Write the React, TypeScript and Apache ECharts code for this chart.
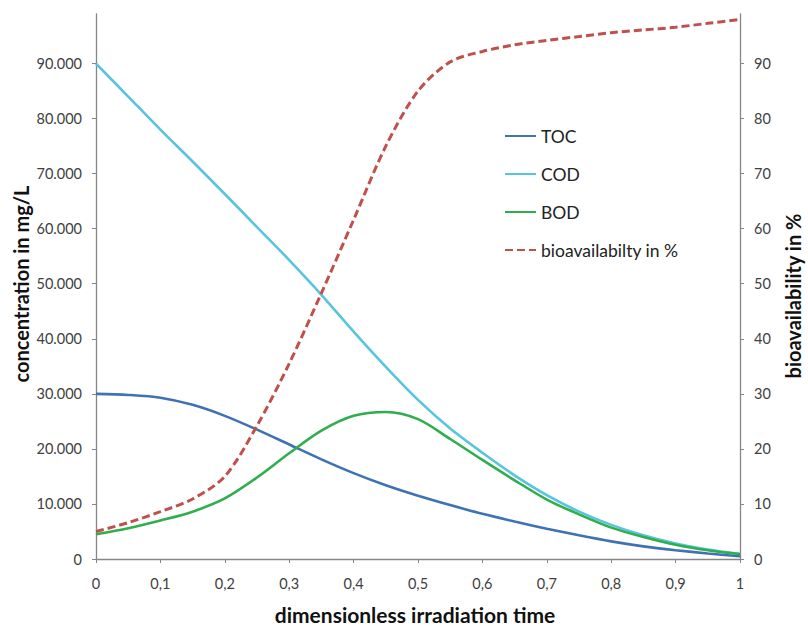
import React, { useEffect, useRef } from "react";
import * as echarts from "echarts";

const timeValues = [0, 0.05, 0.1, 0.15, 0.2, 0.25, 0.3, 0.35, 0.4, 0.45, 0.5, 0.55, 0.6, 0.65, 0.7, 0.75, 0.8, 0.85, 0.9, 0.95, 1];
const tocValues = [30, 29.8, 29.3, 28, 26, 23.5, 20.8, 18.1, 15.6, 13.4, 11.5, 9.8, 8.2, 6.8, 5.5, 4.3, 3.2, 2.3, 1.6, 1.0, 0.5];
const codValues = [90, 84, 78, 72.2, 66.3, 60.3, 54.3, 48, 41.3, 34.9, 28.9, 23.7, 19.3, 15.2, 11.6, 8.6, 6.2, 4.3, 2.8, 1.7, 0.9];
const bodValues = [4.5, 5.6, 7.0, 8.6, 11, 14.8, 19.2, 23.3, 26.0, 26.7, 25.4, 21.8, 18, 14.3, 10.8, 8.1, 5.7, 4.0, 2.6, 1.6, 0.9];
const bioValues = [5, 6.6, 8.6, 10.9, 15.0, 24.2, 35.5, 48.3, 61.6, 75, 85, 90.3, 92.2, 93.4, 94.2, 94.9, 95.6, 96.1, 96.6, 97.3, 98];

const xTicks = [0, 0.1, 0.2, 0.3, 0.4, 0.5, 0.6, 0.7, 0.8, 0.9, 1];
const xTickLabels = ["0", "0,1", "0,2", "0,3", "0,4", "0,5", "0,6", "0,7", "0,8", "0,9", "1"];
const yTicks = [0, 10, 20, 30, 40, 50, 60, 70, 80, 90];
const leftTickLabels = ["0", "10.000", "20.000", "30.000", "40.000", "50.000", "60.000", "70.000", "80.000", "90.000"];
const rightTickLabels = ["0", "10", "20", "30", "40", "50", "60", "70", "80", "90"];

const pairs = (ys: number[]) => ys.map((y, i) => [timeValues[i], y]);

const FONT = "Lato, 'Open Sans', sans-serif";
const AXIS_COLOR = "#868686";
const LABEL_COLOR = "#404040";

export default function App() {
  const ref = useRef<HTMLDivElement>(null);
  useEffect(() => {
    if (!ref.current) return;
    const chart = echarts.init(ref.current, undefined, { renderer: "svg" });
    const axisCommon = {
      axisLine: { show: true, lineStyle: { color: AXIS_COLOR, width: 1.3 } },
      axisTick: { show: true, length: 4, inside: false, lineStyle: { color: AXIS_COLOR } },
      splitLine: { show: false },
    };
    const yAxisBase = (labels: string[], position: string) => ({
      type: "value",
      position,
      min: 0,
      max: 99,
      interval: 10,
      ...axisCommon,
      axisTick: { ...axisCommon.axisTick, customValues: yTicks },
      axisLabel: {
        customValues: yTicks,
        margin: 14,
        color: LABEL_COLOR,
        fontFamily: FONT,
        fontSize: 14.5,
        formatter: (v: number) => labels[yTicks.indexOf(Math.round(v))] ?? "",
      },
    });
    chart.setOption({
      animation: false,
      backgroundColor: "#ffffff",
      grid: { left: 96, right: 68, top: 14, bottom: 67, containLabel: false },
      legend: {
        orient: "vertical",
        left: 499,
        top: 122,
        itemWidth: 31,
        itemHeight: 14,
        itemGap: 20,
        itemStyle: { opacity: 0 },
        textStyle: { fontFamily: FONT, fontSize: 17.5, color: "#222222" },
        data: ["TOC", "COD", "BOD", "bioavailabilty in %"],
      },
      xAxis: {
        type: "value",
        min: 0,
        max: 1,
        interval: 0.1,
        ...axisCommon,
        axisTick: { ...axisCommon.axisTick, customValues: xTicks },
        axisLabel: {
          customValues: xTicks,
          margin: 17,
          color: LABEL_COLOR,
          fontFamily: FONT,
          fontSize: 14.5,
          formatter: (v: number) => xTickLabels[xTicks.findIndex((t) => Math.abs(t - v) < 1e-6)] ?? "",
        },
      },
      yAxis: [yAxisBase(leftTickLabels, "left"), yAxisBase(rightTickLabels, "right")],
      series: [
        {
          name: "TOC",
          type: "line",
          yAxisIndex: 0,
          data: pairs(tocValues),
          smooth: 0.3,
          symbol: "none",
          lineStyle: { color: "#3f72b2", width: 2.6 },
          itemStyle: { color: "#3f72b2" },
        },
        {
          name: "COD",
          type: "line",
          yAxisIndex: 0,
          data: pairs(codValues),
          smooth: 0.3,
          symbol: "none",
          lineStyle: { color: "#58c4dd", width: 2.6 },
          itemStyle: { color: "#58c4dd" },
        },
        {
          name: "BOD",
          type: "line",
          yAxisIndex: 0,
          data: pairs(bodValues),
          smooth: 0.3,
          symbol: "none",
          lineStyle: { color: "#2fae4e", width: 2.6 },
          itemStyle: { color: "#2fae4e" },
        },
        {
          name: "bioavailabilty in %",
          type: "line",
          yAxisIndex: 1,
          data: pairs(bioValues),
          smooth: 0.3,
          symbol: "none",
          lineStyle: { color: "#c0504d", width: 3, type: [8, 4] },
          itemStyle: { color: "#c0504d" },
        },
      ],
      graphic: [
        {
          type: "text",
          x: 21,
          y: 284,
          rotation: Math.PI / 2,
          style: {
            text: "concentration in mg/L",
            fontFamily: FONT,
            fontWeight: "bold",
            fontSize: 20,
            fill: "#111111",
            textAlign: "center",
            textVerticalAlign: "middle",
          },
        },
        {
          type: "text",
          x: 793,
          y: 296,
          rotation: Math.PI / 2,
          style: {
            text: "bioavailability in %",
            fontFamily: FONT,
            fontWeight: "bold",
            fontSize: 20,
            fill: "#111111",
            textAlign: "center",
            textVerticalAlign: "middle",
          },
        },
        {
          type: "text",
          x: 415,
          y: 614,
          style: {
            text: "dimensionless irradiation time",
            fontFamily: FONT,
            fontWeight: "bold",
            fontSize: 21,
            fill: "#111111",
            textAlign: "center",
            textVerticalAlign: "middle",
          },
        },
      ],
    });
    return () => chart.dispose();
  }, []);
  return <div ref={ref} style={{ position: "absolute", left: 0, top: 0, width: 808, height: 626 }} />;
}
